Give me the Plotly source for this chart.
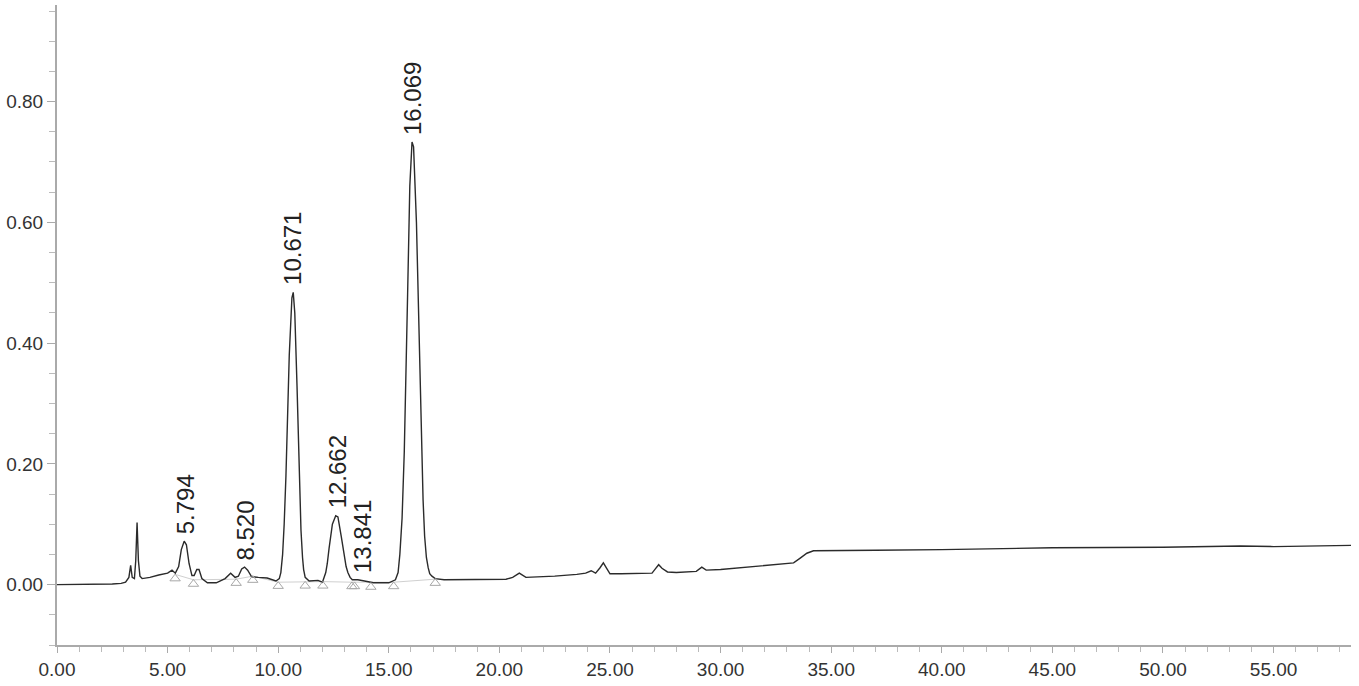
import plotly.graph_objects as go

# Chromatogram trace (time in min, absorbance in AU)
time_min = [0.0, 1.0, 2.0, 2.5, 2.9, 3.1, 3.25, 3.33, 3.40, 3.50, 3.56, 3.62, 3.68, 3.75, 3.85,
            4.2, 4.6, 5.0, 5.2, 5.35, 5.5, 5.62, 5.75, 5.85, 5.97, 6.1, 6.2, 6.32, 6.42, 6.55,
            6.8, 7.2, 7.6, 7.85, 8.05, 8.2, 8.35, 8.48, 8.62, 8.8, 9.1, 9.5, 9.9, 10.05, 10.12,
            10.2, 10.27, 10.35, 10.5, 10.62, 10.68, 10.75, 10.85, 10.97, 11.03, 11.1, 11.15,
            11.22, 11.4, 11.8, 12.0, 12.15, 12.22, 12.3, 12.45, 12.6, 12.7, 12.85, 12.93, 13.0,
            13.07, 13.15, 13.25, 13.35, 13.6, 13.9, 14.3, 15.0, 15.3, 15.42, 15.5, 15.6, 15.7,
            15.85, 15.95, 16.05, 16.12, 16.25, 16.4, 16.55, 16.62, 16.7, 16.78, 16.85, 16.95,
            17.1, 17.5, 18.5, 19.5, 20.3, 20.6, 20.9, 21.2, 21.8, 22.5, 23.5, 23.9, 24.15,
            24.35, 24.55, 24.7, 24.85, 25.0, 25.5, 26.5, 26.9, 27.05, 27.2, 27.35, 27.6, 28.0,
            28.9, 29.15, 29.35, 30.0, 31.0, 32.0, 33.3, 33.6, 33.9, 34.2, 35.0, 37.0, 40.0,
            45.0, 50.0, 52.0, 53.5, 55.0, 58.5]
absorbance = [0.0, 0.0, 0.0005, 0.001, 0.002, 0.004, 0.012, 0.032, 0.012, 0.010, 0.040, 0.103,
              0.040, 0.014, 0.010, 0.012, 0.016, 0.019, 0.024, 0.019, 0.030, 0.058, 0.072, 0.066,
              0.035, 0.015, 0.015, 0.025, 0.025, 0.010, 0.003, 0.003, 0.010, 0.019, 0.012, 0.014,
              0.026, 0.029, 0.024, 0.013, 0.012, 0.011, 0.006, 0.010, 0.020, 0.05, 0.10, 0.18,
              0.38, 0.475, 0.484, 0.45, 0.33, 0.16, 0.09, 0.045, 0.025, 0.012, 0.006, 0.007,
              0.004, 0.02, 0.035, 0.06, 0.10, 0.114, 0.112, 0.08, 0.06, 0.045, 0.03, 0.02, 0.012,
              0.008, 0.008, 0.006, 0.003, 0.003, 0.008, 0.02, 0.05, 0.11, 0.22, 0.48, 0.66, 0.733,
              0.725, 0.60, 0.35, 0.14, 0.08, 0.045, 0.028, 0.018, 0.014, 0.010, 0.008, 0.008,
              0.008, 0.009, 0.012, 0.019, 0.012, 0.013, 0.014, 0.017, 0.019, 0.023, 0.019, 0.028,
              0.036, 0.027, 0.018, 0.018, 0.018, 0.019, 0.026, 0.033, 0.027, 0.021, 0.020, 0.022,
              0.029, 0.024, 0.025, 0.028, 0.031, 0.036, 0.044, 0.052, 0.056, 0.056, 0.057, 0.058,
              0.061, 0.062, 0.063, 0.064, 0.063, 0.065]

# Peak labels
peak_times = [5.794, 8.520, 10.671, 12.662, 13.841, 16.069]
peak_heights = [0.072, 0.029, 0.484, 0.114, 0.007, 0.733]
peak_labels = ["5.794", "8.520", "10.671", "12.662", "13.841", "16.069"]

# Integration markers (triangles)
marker_times = [5.34, 6.17, 8.10, 8.85, 10.0, 11.22, 12.02, 13.33, 13.45, 14.19, 15.22, 17.1]
marker_values = [0.010, 0.001, 0.0025, 0.0075, -0.0025, -0.002, -0.002, -0.003, -0.003,
                 -0.004, -0.003, 0.0025]
baseline_values = [0.017, 0.008, 0.009, 0.014, 0.004, 0.005, 0.005, 0.004, 0.004,
                   0.003, 0.004, 0.009]

x_ticks = [0, 5, 10, 15, 20, 25, 30, 35, 40, 45, 50, 55]
y_ticks = [0.0, 0.2, 0.4, 0.6, 0.8]

fig = go.Figure()
fig.add_trace(go.Scatter(x=marker_times, y=baseline_values, mode="lines",
                         line=dict(color="#d0d0d0", width=1), hoverinfo="skip"))
fig.add_trace(go.Scatter(x=time_min, y=absorbance, mode="lines",
                         line=dict(color="#2b2b2b", width=1.4)))
fig.add_trace(go.Scatter(x=marker_times, y=marker_values, mode="markers",
                         marker=dict(symbol="triangle-up-open", size=9,
                                     color="#a8a8a8", line=dict(width=1))))

for t, h, lab in zip(peak_times, peak_heights, peak_labels):
    fig.add_annotation(x=t, y=h, text=lab, textangle=-90, showarrow=False,
                       xanchor="center", yanchor="bottom", yshift=5,
                       font=dict(family="Liberation Sans, Arial", size=24, color="#222"))

axis_font = dict(family="Liberation Sans, Arial", size=19, color="#333")
fig.update_layout(
    width=1359, height=686,
    margin=dict(l=57, r=8, t=5, b=41),
    plot_bgcolor="white", paper_bgcolor="white",
    showlegend=False,
    xaxis=dict(range=[0, 58.5], tickvals=x_ticks, tickformat=".2f",
               showgrid=False, zeroline=False, showline=True, linecolor="#aaaaaa",
               linewidth=2, ticks="outside", ticklen=6, tickcolor="#aaaaaa",
               minor=dict(dtick=1, ticks="outside", ticklen=5, tickcolor="#bbbbbb"),
               tickfont=axis_font),
    yaxis=dict(range=[-0.1, 0.96], tickvals=y_ticks, tickformat=".2f",
               showgrid=False, zeroline=False, showline=True, linecolor="#aaaaaa",
               linewidth=2, ticks="outside", ticklen=8, tickcolor="#aaaaaa",
               minor=dict(dtick=0.05, tick0=0, ticks="outside", ticklen=6, tickcolor="#bbbbbb"),
               tickfont=axis_font),
)

fig.write_html("out.html")
